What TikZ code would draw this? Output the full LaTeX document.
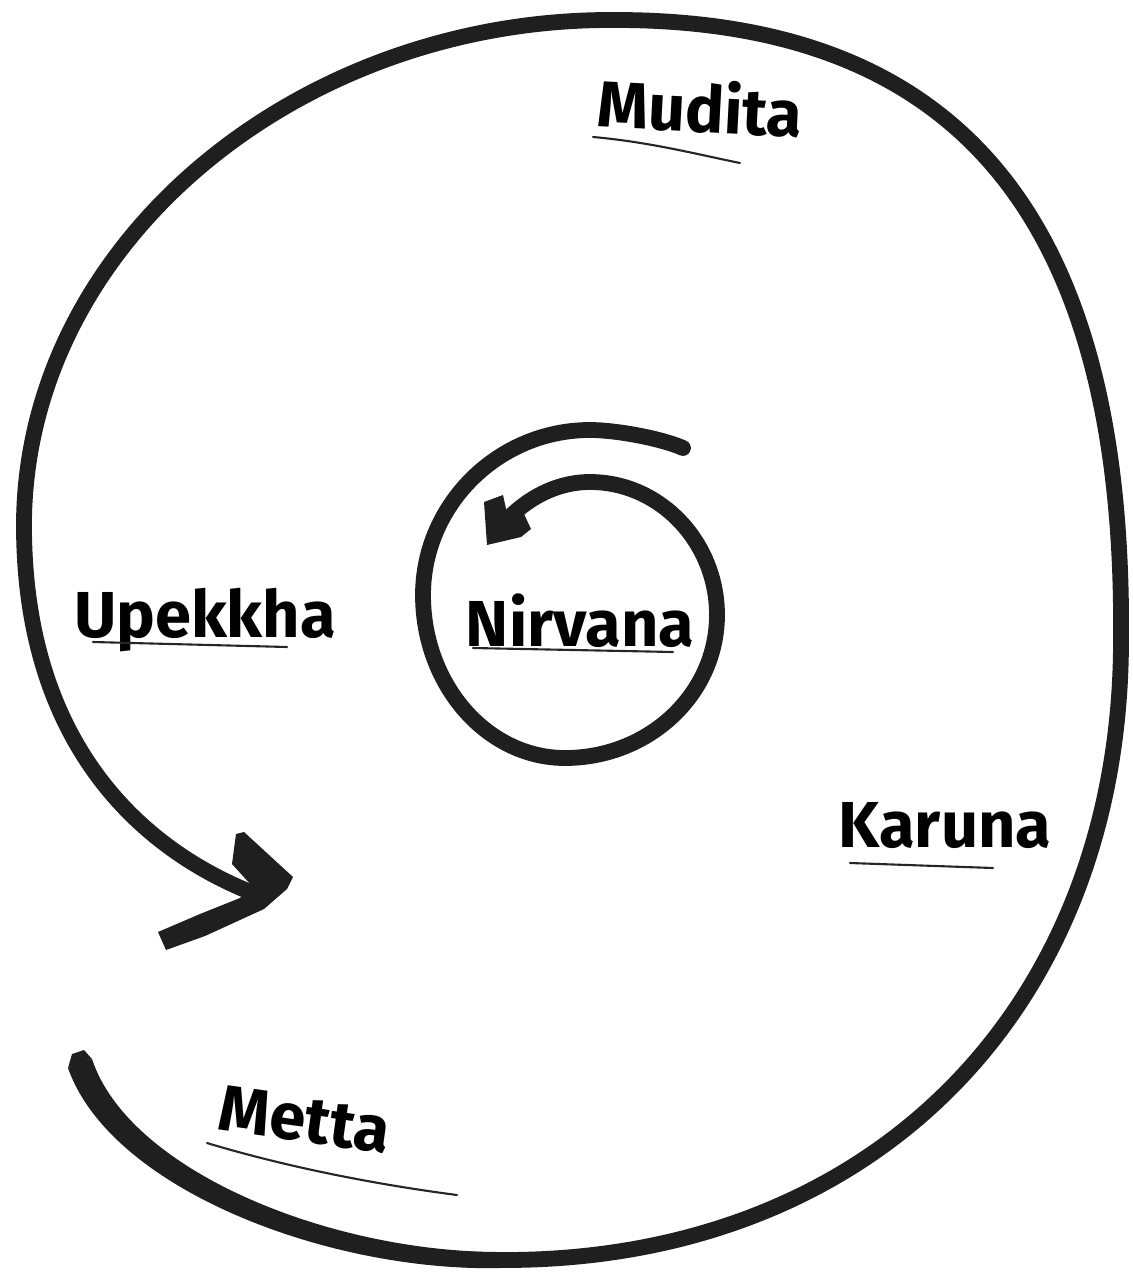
\documentclass[tikz,border=0pt]{standalone}
\usepackage{fontspec}
\setmainfont{Fira Sans}
\begin{document}
\begin{tikzpicture}[x=0.02cm,y=-0.02cm,
  ink/.style={draw=black!88, line cap=round, line join=round},
  outer/.style={ink, line width=9pt},
  inner/.style={ink, line width=9pt},
  blob/.style={fill=black!88},
  uline/.style={draw=black!85, line width=1.2pt, line cap=round},
  lbl/.style={font=\fontsize{37}{42}\selectfont\bfseries, text=black, inner sep=0pt}]
\useasboundingbox (0,0) rectangle (1132,1280);
\fill[white] (0,0) rectangle (1132,1280);
% outer spiral
\draw[outer] (80,1064) .. controls (120,1180) and (330,1262) .. (500,1260)
  .. controls (870,1262) and (1121,1010) .. (1121,640)
  .. controls (1125,220) and (960,18) .. (610,20)
  .. controls (300,20) and (28,240) .. (24,520)
  .. controls (22,760) and (160,858) .. (258,895);
% thicker, tapering start of the outer stroke
\fill[blob] (68,1068) .. controls (111,1190) and (330,1272) .. (500,1268)
  -- (500,1252) .. controls (330,1252) and (129,1171) .. (92,1059) -- cycle;
\fill[blob] (68,1068) -- (72,1054) -- (84,1050) -- (92,1059) -- cycle;
% outer arrow head
\fill[blob] (236,834) -- (244,832) -- (293,877) -- (287,889) -- (264,909)
  -- (205,936) -- (166,950) -- (158,932) -- (200,914) -- (240,898)
  -- (252,886) -- (232,864) -- cycle;
% inner spiral
\draw[inner] (683,448) .. controls (660,438) and (615,430) .. (590,430)
  .. controls (498,430) and (423,505) .. (423,595)
  .. controls (423,685) and (487,758) .. (565,758)
  .. controls (649,758) and (717,694) .. (717,615)
  .. controls (717,542) and (660,482) .. (590,482)
  .. controls (555,482) and (525,500) .. (505,522);
% inner arrow head
\fill[blob] (484,502) -- (503,495) -- (508,518) -- (524,514) -- (531,529)
  -- (521,537) -- (487,545) -- cycle;
% labels
\node[lbl, rotate=-3] (mudita) at (700,106) {Mudita};
\node[lbl] (upekkha) at (205,620) {Upekkha};
\node[lbl] (nirvana) at (580,621) {Nirvana};
\node[lbl] (karuna) at (945,826) {Karuna};
\node[lbl, rotate=-8] (metta) at (305,1120) {Metta};
% underlines
\draw[uline] (593,137) .. controls (650,142) and (700,155) .. (740,163);
\draw[uline] (93,642) -- (287,647);
\draw[uline] (473,648) -- (673,652);
\draw[uline] (850,863) -- (993,868);
\draw[uline] (207,1143) .. controls (290,1168) and (380,1185) .. (457,1195);
\end{tikzpicture}
\end{document}
